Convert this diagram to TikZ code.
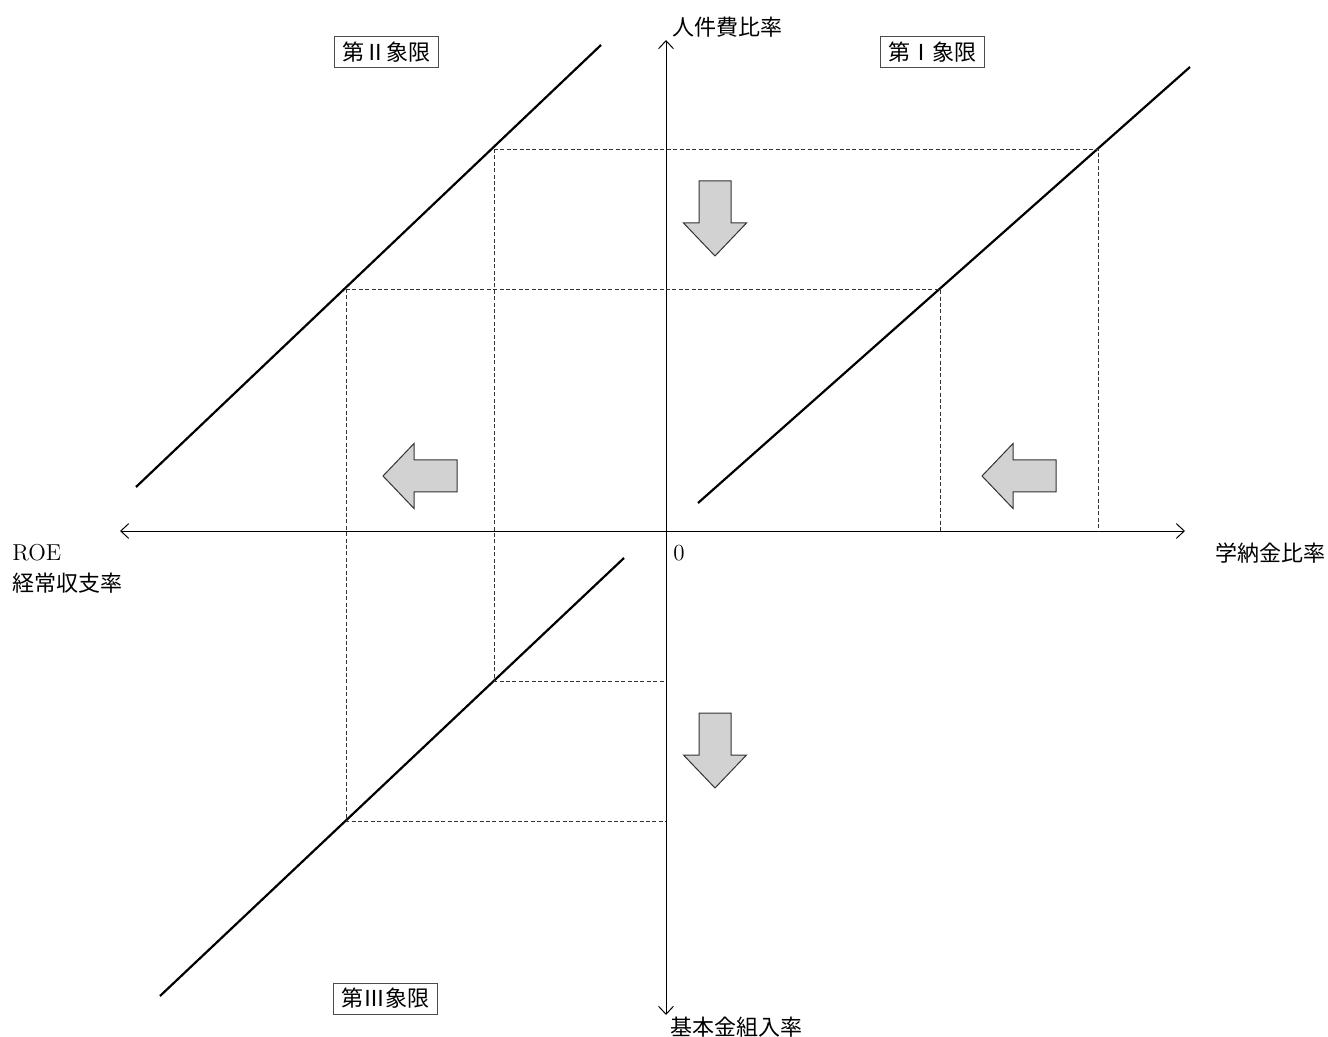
\documentclass[tikz,border=0pt]{standalone}
\usepackage{fontspec}
\usepackage{tikz}
\usetikzlibrary{arrows.meta,calc}
\newfontfamily\jpfont{Noto Sans CJK JP}
\definecolor{cArrow}{HTML}{D2D2D2}

\begin{document}
\begin{tikzpicture}[
    x=0.5pt, y=-0.5pt,
    jp/.style={font=\jpfont\fontsize{11}{13}\selectfont, inner sep=0pt},
    lat/.style={font=\fontsize{11.5}{13}\selectfont, inner sep=0pt},
    qbox/.style={jp, draw=black!70, line width=0.5pt, minimum width=52pt, minimum height=15.5pt},
    axis/.style={{Straight Barb[length=1.4mm,width=2.6mm]}-{Straight Barb[length=1.4mm,width=2.6mm]}, line width=0.5pt},
    curve/.style={line width=1.1pt},
    guide/.style={dash pattern=on 2pt off 1.2pt, line width=0.35pt, black!80},
    blk/.style={draw=black!80, fill=cArrow, line width=0.5pt, line join=miter},
    downarr/.pic={\draw[blk] (-16,0) -- (16,0) -- (16,42) -- (31.5,42) -- (0,75) -- (-31.5,42) -- (-16,42) -- cycle;},
    leftarr/.pic={\draw[blk] (0,-16) -- (0,16) -- (-43,16) -- (-43,32.5) -- (-74,0) -- (-43,-32.5) -- (-43,-16) -- cycle;}
]
\useasboundingbox (0,0) rectangle (1328,1037);

\coordinate (O) at (666,531);
\coordinate (xl) at (120,531);
\coordinate (xr) at (1185,531);
\coordinate (yt) at (666,40);
\coordinate (yb) at (666,1015);
\draw[axis] (xl) -- (xr);
\draw[axis] (yb) -- (yt);

\coordinate (q1s) at (698,503);
\coordinate (q1e) at (1190,67);
\coordinate (q2s) at (136,487);
\coordinate (q2e) at (601,45);
\coordinate (q3s) at (160,996);
\coordinate (q3e) at (624,558);
\draw[curve] (q1s) -- (q1e);
\draw[curve] (q2s) -- (q2e);
\draw[curve] (q3s) -- (q3e);

\coordinate (a1) at (1098,149);
\coordinate (b1) at (940,289);
\coordinate (a2) at (494,149);
\coordinate (b2) at (346,289);
\coordinate (a3) at (494,681);
\coordinate (b3) at (346,821);
\draw[guide] (a2) -- (a1) -- (a1 |- O);
\draw[guide] (b2) -- (b1) -- (b1 |- O);
\draw[guide] (a2) -- (a3) -- (a3 -| O);
\draw[guide] (b2) -- (b3) -- (b3 -| O);

\pic at (715,181) {downarr};
\pic at (715,713) {downarr};
\pic at (457,476) {leftarr};
\pic at (1056,476) {leftarr};

\node[qbox] (quad2) at (386.5,52.5) {第Ⅱ象限};
\node[qbox] (quad1) at (932,52.5) {第Ⅰ象限};
\node[qbox] (quad3) at (385,998.5) {第Ⅲ象限};

\node[jp, anchor=west] (ylab) at (672,27) {人件費比率};
\node[jp, anchor=west] (xlab) at (1215,553) {学納金比率};
\node[jp, anchor=west] (zlab) at (670,1027) {基本金組入率};
\node[lat, anchor=west] (roe) at (12,553) {ROE};
\node[jp, anchor=west] (rlab) at (12,583) {経常収支率};
\node[lat, anchor=west] (zero) at (673,553) {0};
\end{tikzpicture}
\end{document}
